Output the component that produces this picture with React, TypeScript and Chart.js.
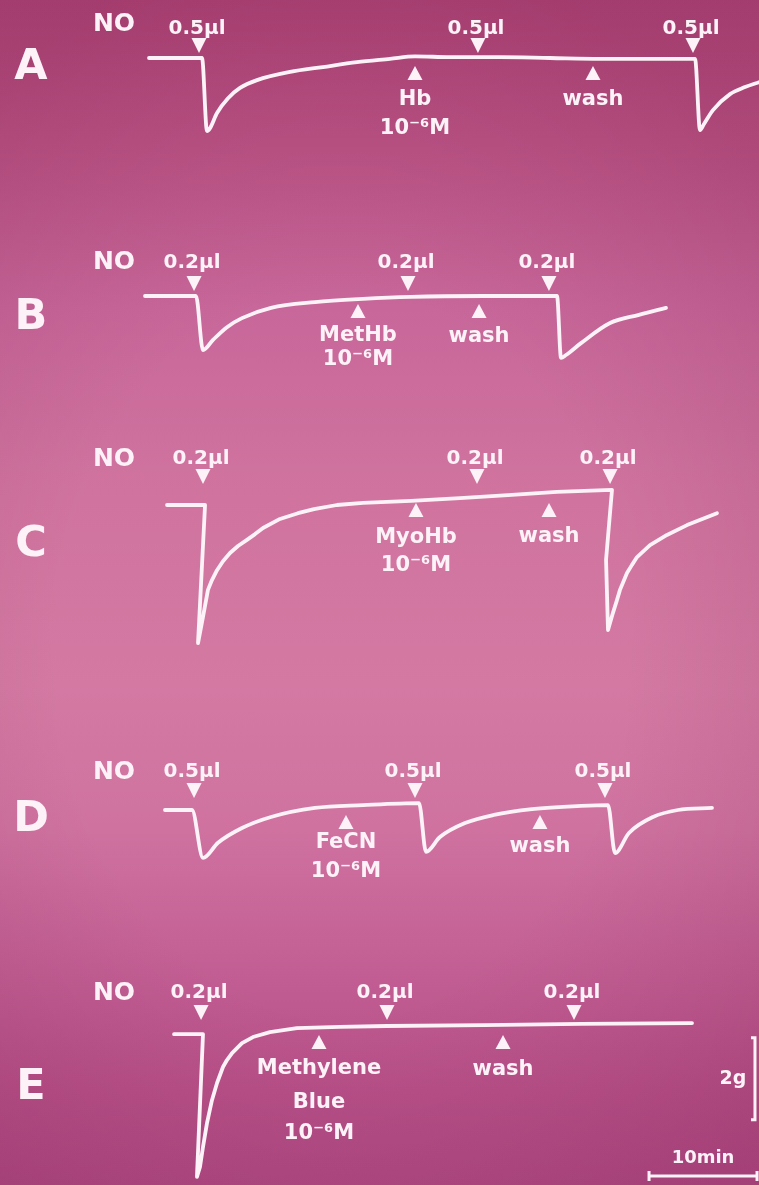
import React, { useEffect, useRef } from "react";
import { Chart, registerables } from "chart.js";

Chart.register(...registerables);

// ---------- canvas geometry ----------
const W = 759;
const H = 1185;
const PX_PER_MIN = 10.8;
const ORIGIN_PX = 145;
const PX_PER_G = 41;

// ---------- data (time in min, tension change in g) ----------
const panelLetters = ["A", "B", "C", "D", "E"];
const doseLabels = ["0.5µl", "0.2µl", "0.2µl", "0.5µl", "0.2µl"];

const timeA = [0.37, 5.28, 5.74, 6.02, 6.67, 7.69, 8.8, 10.37, 13.43, 16.48, 19.63, 22.69, 25.0, 28.24, 32.87, 37.5, 42.13, 46.76, 50.93, 51.39, 51.76, 52.59, 54.17, 55.56, 56.85];
const gramsA = [0, 0, -1.78, -1.71, -1.34, -0.98, -0.73, -0.54, -0.34, -0.22, -0.1, -0.02, 0.04, 0.02, 0.02, 0, -0.02, -0.02, -0.02, -1.76, -1.61, -1.27, -0.88, -0.71, -0.59];

const timeB = [0, 4.72, 5.37, 6.3, 7.59, 8.98, 11.67, 15.74, 20.19, 24.63, 31.39, 38.15, 38.52, 38.98, 40.37, 43.06, 45.74, 48.24];
const gramsB = [0, 0, -1.32, -1.07, -0.76, -0.54, -0.29, -0.15, -0.07, -0.02, 0, 0, -1.51, -1.44, -1.15, -0.66, -0.46, -0.29];

const timeC = [2.04, 5.56, 4.91, 5.37, 5.83, 6.2, 6.67, 7.22, 7.87, 8.61, 9.44, 10.19, 10.93, 12.5, 14.17, 15.65, 17.78, 20.19, 24.63, 29.17, 33.61, 38.15, 43.24, 42.69, 42.87, 43.33, 43.7, 43.98, 44.63, 45.09, 45.56, 46.76, 48.33, 50.19, 52.96];
const gramsC = [0, 0, -3.37, -2.73, -2.07, -1.83, -1.59, -1.37, -1.17, -1.0, -0.85, -0.71, -0.56, -0.34, -0.2, -0.1, 0, 0.05, 0.1, 0.17, 0.24, 0.32, 0.37, -1.34, -3.05, -2.63, -2.32, -2.07, -1.66, -1.46, -1.27, -0.98, -0.73, -0.49, -0.2];

const timeD = [1.85, 4.35, 5.37, 6.76, 8.98, 11.67, 15.74, 20.19, 25.37, 26.02, 27.31, 29.63, 32.31, 35.83, 40.37, 42.87, 43.52, 44.81, 47.04, 49.35, 52.5];
const gramsD = [0, 0, -1.17, -0.8, -0.44, -0.17, 0.05, 0.12, 0.17, -1.02, -0.66, -0.32, -0.12, 0.02, 0.1, 0.12, -1.05, -0.56, -0.17, 0, 0.05];

const timeE = [2.69, 5.37, 4.81, 5.09, 5.37, 5.74, 6.2, 6.67, 7.22, 7.59, 8.06, 8.98, 10.0, 11.57, 14.07, 18.06, 22.41, 31.39, 40.37, 50.65];
const gramsE = [0.02, 0.02, -3.46, -3.22, -2.73, -2.15, -1.59, -1.17, -0.78, -0.61, -0.44, -0.2, -0.05, 0.07, 0.17, 0.2, 0.22, 0.24, 0.27, 0.29];

const injectionTimes = [
  [5.0, 30.83, 50.74],
  [4.54, 24.35, 37.4],
  [5.37, 30.74, 43.06],
  [4.54, 25.0, 42.59],
  [5.19, 22.41, 39.72],
];
const drugNames = [
  ["Hb", "10⁻⁶M"],
  ["MetHb", "10⁻⁶M"],
  ["MyoHb", "10⁻⁶M"],
  ["FeCN", "10⁻⁶M"],
  ["Methylene", "Blue", "10⁻⁶M"],
];
const drugTimes = [25.0, 19.72, 25.09, 18.61, 16.11];
const washTimes = [41.48, 30.93, 37.41, 36.57, 33.15];

const scaleBarGrams = 2;
const scaleBarMinutes = 10;
const scaleBarLabels = ["2g", "10min"];

// ---------- layout (pixels) ----------
const LAYOUT = [
  { base: 58, noY: 24, doseY: 29, tipY: 53, triY: 66, labY: [100, 129], washY: 100, letterY: 68 },
  { base: 296, noY: 262, doseY: 263, tipY: 291, triY: 304, labY: [336, 360], washY: 337, letterY: 318 },
  { base: 505, noY: 459, doseY: 459, tipY: 484, triY: 503, labY: [538, 566], washY: 537, letterY: 545 },
  { base: 810, noY: 772, doseY: 772, tipY: 798, triY: 815, labY: [843, 872], washY: 847, letterY: 820 },
  { base: 1035, noY: 993, doseY: 993, tipY: 1020, triY: 1035, labY: [1069, 1103, 1134], washY: 1070, letterY: 1088 },
];

const traces = [
  [timeA, gramsA],
  [timeB, gramsB],
  [timeC, gramsC],
  [timeD, gramsD],
  [timeE, gramsE],
];
// traces whose pen briefly runs backwards in time are drawn with straight segments
const straightSegments = [false, false, true, false, true];

const INK = "#fdf2f7";
const FONT = '"DejaVu Sans", "Noto Sans", sans-serif';

const axisIds = ["yA", "yB", "yC", "yD", "yE"];

const annotationPlugin = {
  id: "slideAnnotations",
  afterDatasetsDraw(chart: any) {
    const ctx = chart.ctx as CanvasRenderingContext2D;
    const xs = chart.scales.x;
    ctx.save();
    ctx.fillStyle = INK;
    ctx.strokeStyle = INK;
    ctx.textAlign = "center";
    ctx.textBaseline = "middle";

    LAYOUT.forEach((lay, i) => {
      ctx.font = `bold 43px ${FONT}`;
      ctx.fillText(panelLetters[i], 31, lay.letterY);
      ctx.font = `bold 25px ${FONT}`;
      ctx.fillText("NO", 114, lay.noY);
      injectionTimes[i].forEach((t) => {
        const px = xs.getPixelForValue(t);
        ctx.font = `bold 20px ${FONT}`;
        ctx.fillText(doseLabels[i], px - 2, lay.doseY);
        ctx.beginPath();
        ctx.moveTo(px - 7.5, lay.tipY - 15);
        ctx.lineTo(px + 7.5, lay.tipY - 15);
        ctx.lineTo(px, lay.tipY);
        ctx.closePath();
        ctx.fill();
      });
      const marks = [
        { t: drugTimes[i], lines: drugNames[i], ys: lay.labY },
        { t: washTimes[i], lines: ["wash"], ys: [lay.washY] },
      ];
      marks.forEach((m) => {
        const px = xs.getPixelForValue(m.t);
        ctx.beginPath();
        ctx.moveTo(px, lay.triY);
        ctx.lineTo(px + 7.5, lay.triY + 14);
        ctx.lineTo(px - 7.5, lay.triY + 14);
        ctx.closePath();
        ctx.fill();
        ctx.font = `bold 21px ${FONT}`;
        m.lines.forEach((s, k) => ctx.fillText(s, px, m.ys[k]));
      });
    });

    // scale bars
    const yE = chart.scales.yE;
    const gx = xs.getPixelForValue(56.48);
    const gTop = yE.getPixelForValue(-0.07);
    const gBot = yE.getPixelForValue(-0.07 - scaleBarGrams);
    ctx.lineWidth = 3;
    ctx.beginPath();
    ctx.moveTo(gx - 4, gTop);
    ctx.lineTo(gx, gTop);
    ctx.lineTo(gx, gBot);
    ctx.lineTo(gx - 4, gBot);
    ctx.stroke();
    ctx.font = `bold 19px ${FONT}`;
    ctx.fillText(scaleBarLabels[0], 733, (gTop + gBot) / 2);

    const x1 = xs.getPixelForValue(46.67);
    const x2 = xs.getPixelForValue(46.67 + scaleBarMinutes);
    const by = 1176;
    ctx.beginPath();
    ctx.moveTo(x1, by);
    ctx.lineTo(x2, by);
    ctx.moveTo(x1, by - 5);
    ctx.lineTo(x1, by + 5);
    ctx.moveTo(x2, by - 5);
    ctx.lineTo(x2, by + 5);
    ctx.stroke();
    ctx.font = `bold 18px ${FONT}`;
    ctx.fillText(scaleBarLabels[1], (x1 + x2) / 2, 1158);

    ctx.restore();
  },
};

export default function App() {
  const ref = useRef<HTMLCanvasElement | null>(null);

  useEffect(() => {
    if (!ref.current) return;
    const scales: any = {
      x: {
        type: "linear",
        display: false,
        min: -ORIGIN_PX / PX_PER_MIN,
        max: (W - ORIGIN_PX) / PX_PER_MIN,
      },
    };
    LAYOUT.forEach((lay, i) => {
      scales[axisIds[i]] = {
        type: "linear",
        display: false,
        min: -(H - lay.base) / PX_PER_G,
        max: lay.base / PX_PER_G,
      };
    });
    const datasets = traces.map(([ts, gs], i) => ({
      label: panelLetters[i],
      data: ts.map((t, k) => ({ x: t, y: gs[k] })),
      yAxisID: axisIds[i],
      borderColor: INK,
      borderWidth: 3.8,
      pointRadius: 0,
      cubicInterpolationMode: (straightSegments[i] ? "default" : "monotone") as any,
      tension: 0,
      fill: false,
      borderJoinStyle: "round" as const,
      borderCapStyle: "round" as const,
    }));
    const chart = new Chart(ref.current, {
      type: "line",
      data: { datasets },
      options: {
        responsive: false,
        animation: false,
        devicePixelRatio: 1,
        layout: { padding: 0 },
        scales,
        plugins: { legend: { display: false }, tooltip: { enabled: false } },
      },
      plugins: [annotationPlugin],
    });
    return () => chart.destroy();
  }, []);

  return (
    <div
      style={{
        position: "absolute",
        left: 0,
        top: 0,
        width: W,
        height: H,
        overflow: "hidden",
        background:
          "radial-gradient(ellipse 75% 60% at 45% 55%, rgba(255,255,255,0) 50%, rgba(90,0,45,0.14) 100%), linear-gradient(to bottom, #b04679 0%, #bb5486 12%, #c8679a 26%, #d0749f 42%, #d379a2 58%, #cf72a0 70%, #c25e93 82%, #b75088 92%, #b04a84 100%)",
      }}
    >
      <canvas ref={ref} width={W} height={H} style={{ display: "block" }} />
    </div>
  );
}
